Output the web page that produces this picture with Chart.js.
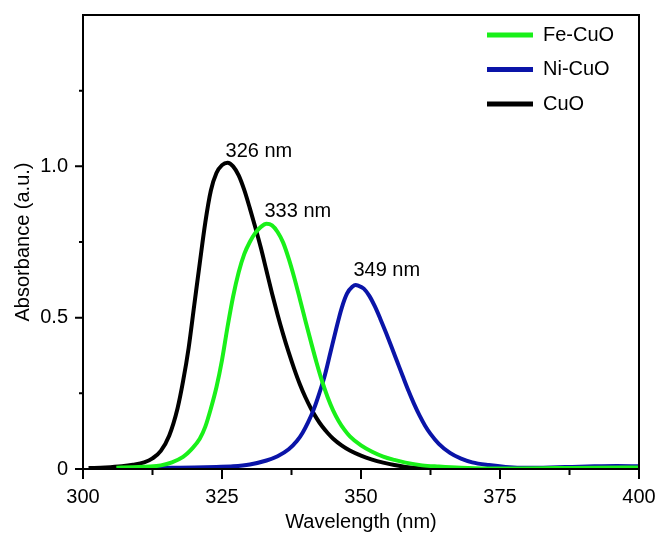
<!DOCTYPE html>
<html>
<head>
<meta charset="utf-8">
<script src="https://cdn.jsdelivr.net/npm/chart.js@4.4.1/dist/chart.umd.min.js"></script>
<style>
  html, body { margin: 0; padding: 0; background: #fff; }
  #wrap { width: 660px; height: 537px; }
</style>
</head>
<body>
<div id="wrap"><canvas id="absChart" width="660" height="537"></canvas></div>
<script>
// CuO
const cuoNm  = [301, 304, 307, 309, 311, 312.5, 314, 315.5, 317, 318, 319, 320, 321, 322, 323, 324, 325, 326, 327, 328, 329, 330, 331, 332, 333, 334, 335, 336, 337, 338, 339, 340, 341, 342, 343, 344, 345, 346.5, 348, 350, 352, 354, 356, 358, 361, 365];
const cuoAbs = [0.003, 0.005, 0.009, 0.014, 0.022, 0.035, 0.06, 0.11, 0.2, 0.29, 0.4, 0.54, 0.68, 0.815, 0.92, 0.978, 1.004, 1.012, 1.0, 0.97, 0.922, 0.862, 0.798, 0.73, 0.655, 0.58, 0.51, 0.445, 0.385, 0.33, 0.28, 0.237, 0.2, 0.168, 0.141, 0.119, 0.1, 0.078, 0.061, 0.044, 0.031, 0.021, 0.013, 0.007, 0.002, 0];

// Fe-CuO
const feNm  = [306, 309, 312, 314, 316, 318, 319.5, 321, 322, 323, 324, 325, 326, 327, 328, 329, 330, 331, 332, 333, 334, 335, 336, 337, 338, 339, 340, 341, 342, 343, 344, 345, 346, 347, 348, 350, 352, 354, 356, 358, 361, 364, 368, 372, 378, 385, 392, 400];
const feAbs = [0.004, 0.006, 0.008, 0.012, 0.022, 0.04, 0.065, 0.1, 0.14, 0.2, 0.27, 0.36, 0.47, 0.57, 0.65, 0.71, 0.75, 0.78, 0.8, 0.81, 0.805, 0.783, 0.748, 0.695, 0.632, 0.562, 0.49, 0.42, 0.352, 0.29, 0.237, 0.193, 0.158, 0.13, 0.108, 0.078, 0.057, 0.041, 0.03, 0.021, 0.012, 0.008, 0.004, 0.002, 0.002, 0.003, 0.004, 0.005];

// Ni-CuO
const niNm  = [308, 312, 316, 320, 324, 327, 330, 333, 335, 337, 338.5, 339.5, 340.5, 341.5, 342.5, 343.5, 344.5, 345.5, 346.5, 347.5, 348.5, 349, 349.5, 350.5, 351.5, 352.5, 353.5, 354.5, 355.5, 356.5, 357.5, 358.5, 359.5, 360.5, 361.5, 362.5, 364, 366, 368, 370, 373, 376, 380, 384, 388, 392, 396, 400];
const niAbs = [0.002, 0.003, 0.004, 0.005, 0.007, 0.009, 0.015, 0.028, 0.042, 0.065, 0.093, 0.12, 0.155, 0.197, 0.25, 0.31, 0.385, 0.46, 0.53, 0.58, 0.603, 0.608, 0.606, 0.596, 0.572, 0.537, 0.495, 0.45, 0.403, 0.355, 0.307, 0.26, 0.217, 0.178, 0.144, 0.116, 0.083, 0.053, 0.034, 0.022, 0.013, 0.007, 0.004, 0.005, 0.007, 0.009, 0.01, 0.009];

const seriesNames = ['Fe-CuO', 'Ni-CuO', 'CuO'];
const seriesColors = ['#19f019', '#0a14a8', '#000000'];

const peakNm = [326, 333, 349];
const peakAbs = [1.012, 0.81, 0.608];
const peakLabels = ['326 nm', '333 nm', '349 nm'];

const xMajor = [300, 325, 350, 375, 400];
const yMajor = [0, 0.5, 1.0];

const FONT = '"Liberation Sans", Arial, sans-serif';

function pts(xs, ys) {
    return xs.map((x, i) => ({ x: x, y: ys[i] }));
}

// frame, tick marks, legend and peak labels
const decorPlugin = {
    id: 'decor',
    afterDraw(chart) {
        const ctx = chart.ctx;
        const a = chart.chartArea;
        const xs = chart.scales.x;
        const ys = chart.scales.y;
        ctx.save();
        ctx.strokeStyle = '#000';
        ctx.lineWidth = 2;
        ctx.strokeRect(a.left, a.top, a.right - a.left, a.bottom - a.top);

        ctx.beginPath();
        xs.ticks.forEach(t => {
            const px = xs.getPixelForValue(t.value);
            const len = xMajor.includes(t.value) ? 10 : 6;
            ctx.moveTo(px, a.bottom);
            ctx.lineTo(px, a.bottom + len);
        });
        ys.ticks.forEach(t => {
            if (t.value >= 1.5) return;
            const py = ys.getPixelForValue(t.value);
            const len = yMajor.includes(t.value) ? 8 : 4;
            ctx.moveTo(a.left, py);
            ctx.lineTo(a.left - len, py);
        });
        ctx.stroke();

        // legend
        ctx.font = '20px ' + FONT;
        ctx.textBaseline = 'middle';
        ctx.textAlign = 'left';
        chart.data.datasets.forEach((ds, i) => {
            const y = 35 + i * 34.5;
            ctx.strokeStyle = ds.borderColor;
            ctx.lineWidth = 5;
            ctx.beginPath();
            ctx.moveTo(487, y);
            ctx.lineTo(533, y);
            ctx.stroke();
            ctx.fillStyle = '#000';
            ctx.fillText(ds.label, 543, y);
        });

        // peak labels
        const lift = [11, 12, 14];
        peakNm.forEach((nm, i) => {
            const px = xs.getPixelForValue(nm);
            const py = ys.getPixelForValue(peakAbs[i]);
            ctx.fillText(peakLabels[i], px - 2, py - lift[i]);
        });
        ctx.restore();
    }
};

const ctx = document.getElementById('absChart').getContext('2d');
const absChart = new Chart(ctx, {
    type: 'line',
    data: {
        datasets: [
            { label: seriesNames[0], data: pts(feNm, feAbs), borderColor: seriesColors[0] },
            { label: seriesNames[1], data: pts(niNm, niAbs), borderColor: seriesColors[1] },
            { label: seriesNames[2], data: pts(cuoNm, cuoAbs), borderColor: seriesColors[2] }
        ]
    },
    options: {
        responsive: false,
        animation: false,
        layout: { padding: { top: 15, right: 21, left: 0, bottom: 0 } },
        elements: {
            line: { borderWidth: 4, cubicInterpolationMode: 'monotone', fill: false },
            point: { radius: 0 }
        },
        plugins: {
            legend: { display: false },
            tooltip: { enabled: false }
        },
        scales: {
            x: {
                type: 'linear',
                min: 300,
                max: 400,
                grid: { display: false, drawTicks: true, tickLength: 10 },
                border: { display: false },
                ticks: {
                    stepSize: 12.5,
                    maxRotation: 0,
                    autoSkip: false,
                    padding: 6,
                    color: '#000',
                    font: { family: FONT, size: 20 },
                    callback: v => xMajor.includes(v) ? String(v) : ''
                },
                title: {
                    display: true,
                    text: 'Wavelength (nm)',
                    color: '#000',
                    font: { family: FONT, size: 20 },
                    padding: { top: 3, bottom: 3 }
                },
                afterFit(scale) { scale.height = 68; scale.paddingRight = 0; scale.paddingLeft = 0; }
            },
            y: {
                min: 0,
                max: 1.5,
                grid: { display: false, drawTicks: true, tickLength: 8 },
                border: { display: false },
                ticks: {
                    stepSize: 0.25,
                    autoSkip: false,
                    padding: 7,
                    color: '#000',
                    font: { family: FONT, size: 20 },
                    callback: v => v === 0 ? '0' : (yMajor.includes(v) ? v.toFixed(1) : '')
                },
                title: {
                    display: true,
                    text: 'Absorbance (a.u.)',
                    color: '#000',
                    font: { family: FONT, size: 20 },
                    padding: { top: 11, bottom: 11 }
                },
                afterFit(scale) { scale.width = 83; scale.paddingTop = 0; scale.paddingBottom = 0; }
            }
        }
    },
    plugins: [decorPlugin]
});
</script>
</body>
</html>
